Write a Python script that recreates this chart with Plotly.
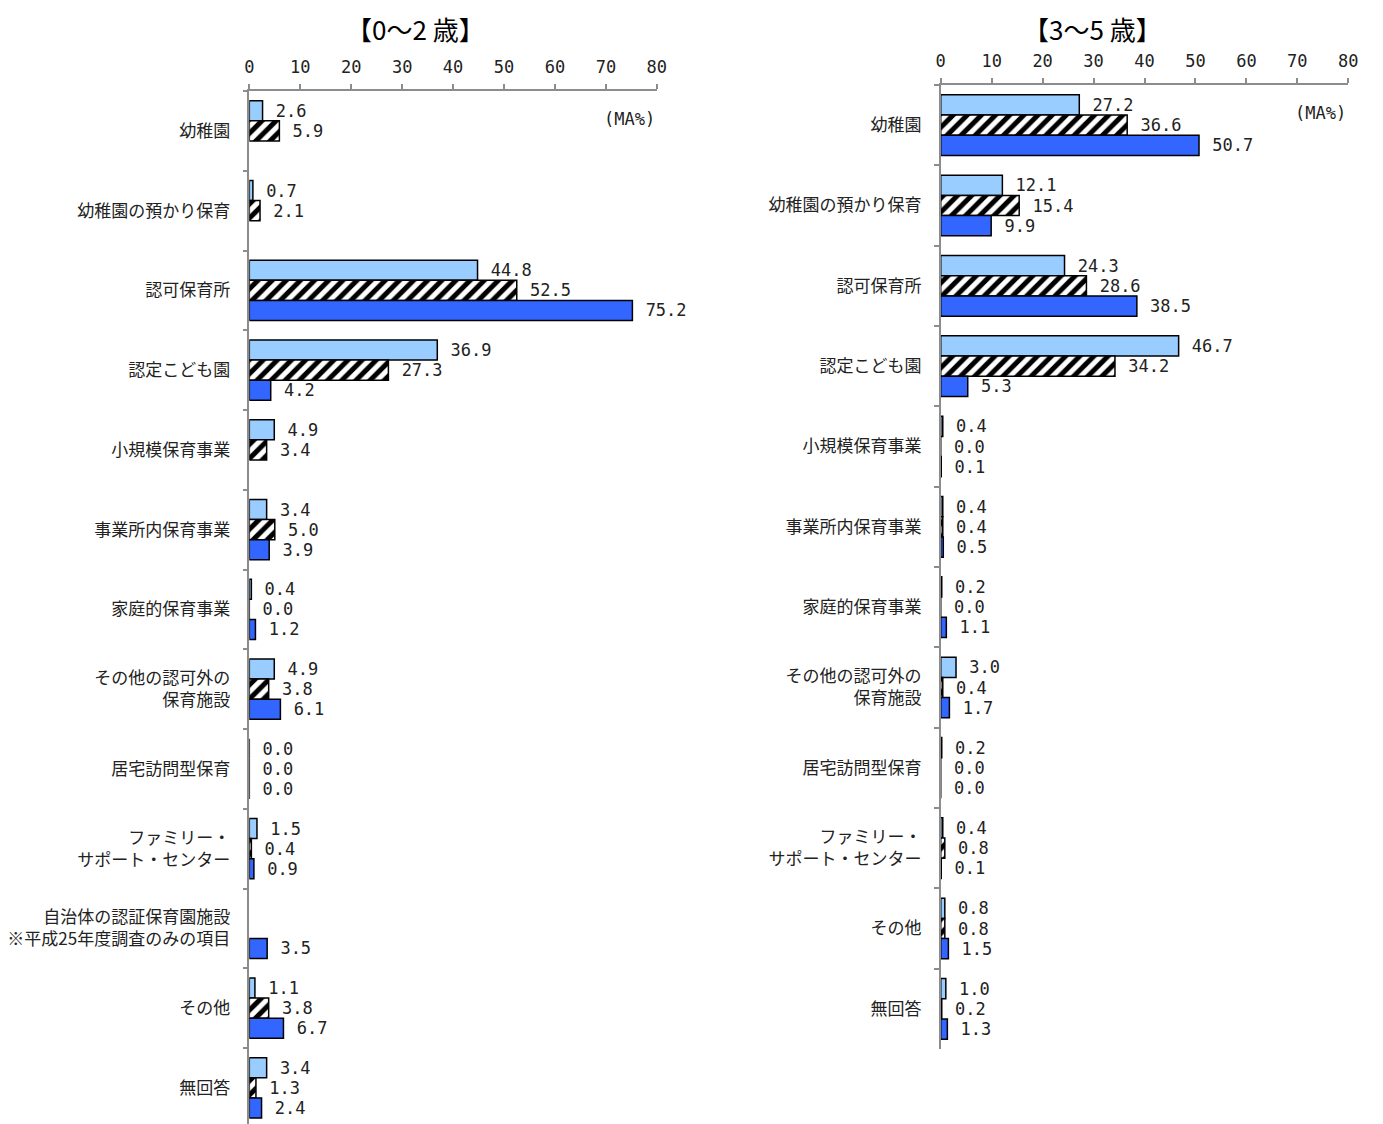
import plotly.graph_objects as go

# ---- data ----
categories_02 = [
    "幼稚園", "幼稚園の預かり保育", "認可保育所", "認定こども園", "小規模保育事業",
    "事業所内保育事業", "家庭的保育事業", "その他の認可外の<br>保育施設", "居宅訪問型保育",
    "ファミリー・<br>サポート・センター", "自治体の認証保育園施設<br>※平成25年度調査のみの項目",
    "その他", "無回答",
]
series_a_02 = [2.6, 0.7, 44.8, 36.9, 4.9, 3.4, 0.4, 4.9, 0.0, 1.5, None, 1.1, 3.4]
series_b_02 = [5.9, 2.1, 52.5, 27.3, 3.4, 5.0, 0.0, 3.8, 0.0, 0.4, None, 3.8, 1.3]
series_c_02 = [None, None, 75.2, 4.2, None, 3.9, 1.2, 6.1, 0.0, 0.9, 3.5, 6.7, 2.4]

categories_35 = [
    "幼稚園", "幼稚園の預かり保育", "認可保育所", "認定こども園", "小規模保育事業",
    "事業所内保育事業", "家庭的保育事業", "その他の認可外の<br>保育施設", "居宅訪問型保育",
    "ファミリー・<br>サポート・センター", "その他", "無回答",
]
series_a_35 = [27.2, 12.1, 24.3, 46.7, 0.4, 0.4, 0.2, 3.0, 0.2, 0.4, 0.8, 1.0]
series_b_35 = [36.6, 15.4, 28.6, 34.2, 0.0, 0.4, 0.0, 0.4, 0.0, 0.8, 0.8, 0.2]
series_c_35 = [50.7, 9.9, 38.5, 5.3, 0.1, 0.5, 1.1, 1.7, 0.0, 0.1, 1.5, 1.3]

series_names = ["今回調査", "前回調査", "平成25年度調査"]
x_ticks = [0, 10, 20, 30, 40, 50, 60, 70, 80]
panel_titles = ["【0～2 歳】", "【3～5 歳】"]

# ---- style ----
W, H = 1383, 1124
NUM_FONT = "DejaVu Sans Mono, Noto Sans CJK JP"
JP_FONT = "Noto Sans CJK JP"
LIGHT = "#99CCFF"
BLUE = "#3366FF"
AXIS = "#8c8c8c"


def labels(vals):
    return ["" if v is None else " %.1f" % v for v in vals]


def bar(vals, cats, kind, xa, ya, name):
    marker = dict(line=dict(color="black", width=1.5))
    if kind == 0:
        marker["color"] = LIGHT
    elif kind == 1:
        marker["color"] = "white"
        marker["pattern"] = dict(shape="/", fgcolor="black", bgcolor="white",
                                 size=10, solidity=0.5, fillmode="replace")
    else:
        marker["color"] = BLUE
    return go.Bar(
        x=vals, y=cats, orientation="h", name=name, marker=marker,
        text=labels(vals), textposition="outside", cliponaxis=False,
        constraintext="none",
        textfont=dict(family=NUM_FONT, size=17, color="#222"),
        xaxis=xa, yaxis=ya, showlegend=False, hoverinfo="x+y+name",
    )


fig = go.Figure()
for i, vals in enumerate([series_a_02, series_b_02, series_c_02]):
    fig.add_trace(bar(vals, categories_02, i, "x", "y", series_names[i]))
for i, vals in enumerate([series_a_35, series_b_35, series_c_35]):
    fig.add_trace(bar(vals, categories_35, i, "x2", "y2", series_names[i]))


def xaxis_cfg(domain, anchor):
    return dict(
        domain=domain, anchor=anchor, side="top", range=[0, 80],
        tickvals=x_ticks, ticktext=[str(t) for t in x_ticks],
        ticks="outside", ticklen=5, tickcolor=AXIS, tickwidth=1.5,
        showline=True, linecolor=AXIS, linewidth=1.5, showgrid=False,
        zeroline=False, tickfont=dict(family=NUM_FONT, size=17, color="#222"),
        ticklabelstandoff=4, fixedrange=True,
    )


def yaxis_cfg(domain, anchor, yrange):
    return dict(
        domain=domain, anchor=anchor, range=yrange, autorange=False,
        type="category",
        ticks="outside", tickson="boundaries", ticklen=5, tickcolor=AXIS,
        tickwidth=1.5, showline=True, linecolor=AXIS, linewidth=1.5,
        showgrid=False, ticklabelstandoff=14,
        tickfont=dict(family=JP_FONT, size=17, color="#222"), fixedrange=True,
    )


# left panel: category band 79.75 px, starting at y=91, cut by the bottom edge
left_top, left_unit = 91, 79.75
left_bottom_val = -0.5 + (H - left_top) / left_unit
# right panel: 12 categories from y=85 to y=1049
right_top, right_bottom = 85, 1049

fig.update_layout(
    width=W, height=H,
    margin=dict(l=0, r=0, t=0, b=0),
    paper_bgcolor="white", plot_bgcolor="white",
    barmode="group", bargap=0.245, bargroupgap=0,
    xaxis=xaxis_cfg([247 / W, 659 / W], "y"),
    yaxis=yaxis_cfg([0, 1 - left_top / H], "x", [left_bottom_val, -0.5]),
    xaxis2=xaxis_cfg([946 / W, 1358 / W], "y2"),
    yaxis2=yaxis_cfg([1 - right_bottom / H, 1 - right_top / H], "x2", [11.5, -0.5]),
    annotations=[
        dict(text=panel_titles[0], x=415 / W, y=1 - 28 / H, xref="paper", yref="paper",
             xanchor="center", yanchor="middle",
             showarrow=False, font=dict(family=JP_FONT, size=26, color="black")),
        dict(text=panel_titles[1], x=1099 / W, y=1 - 28 / H, xref="paper", yref="paper",
             xanchor="center", yanchor="middle",
             showarrow=False, font=dict(family=JP_FONT, size=26, color="black")),
        dict(text="(MA%)", x=1, y=1 - 119 / H, xref="x domain", yref="paper",
             xanchor="right", yanchor="middle", showarrow=False,
             font=dict(family=NUM_FONT, size=17, color="#222")),
        dict(text="(MA%)", x=1, y=1 - 113 / H, xref="x2 domain", yref="paper",
             xanchor="right", yanchor="middle", showarrow=False,
             font=dict(family=NUM_FONT, size=17, color="#222")),
    ],
)

fig.write_html(
    "out.html",
    config={"displayModeBar": False, "responsive": False},
    post_script=(
        "document.documentElement.style.margin='0';"
        "document.documentElement.style.padding='0';"
        "document.documentElement.style.overflow='hidden';"
        "document.body.style.margin='0';document.body.style.padding='0';"
        "document.body.style.overflow='hidden';"
    ),
)
